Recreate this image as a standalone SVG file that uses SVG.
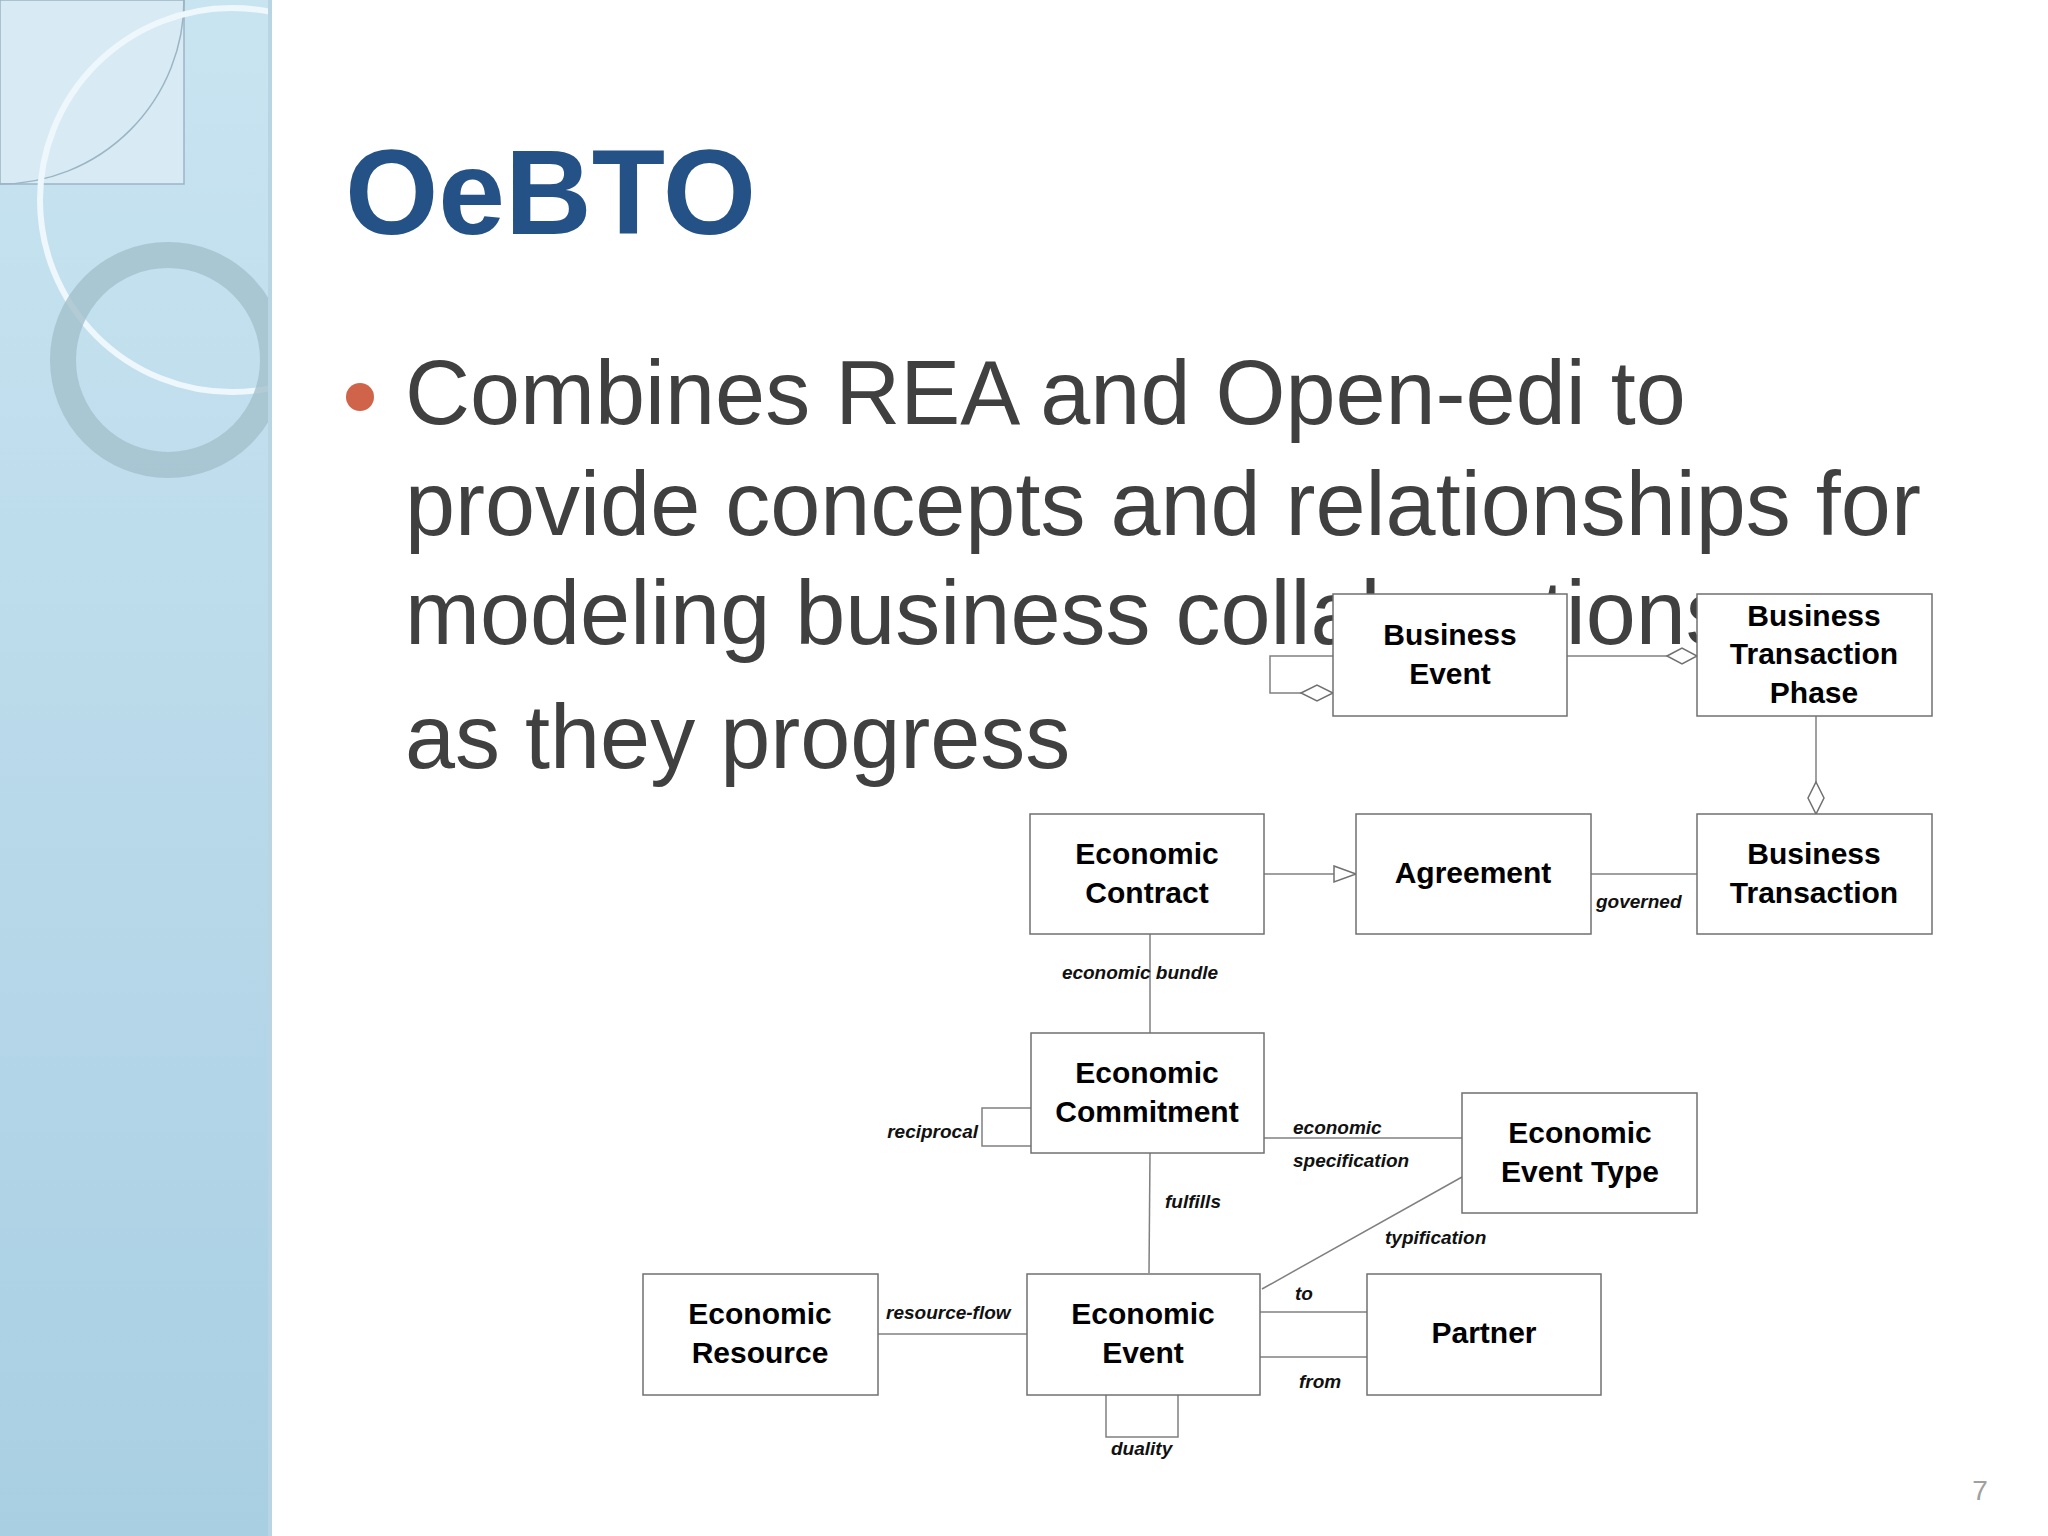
<svg xmlns="http://www.w3.org/2000/svg" width="2048" height="1536" viewBox="0 0 2048 1536">
<defs>
<linearGradient id="panel" x1="0" y1="0" x2="0" y2="1"><stop offset="0" stop-color="#c9e4f1"/><stop offset="1" stop-color="#a9cfe3"/></linearGradient>
<clipPath id="pc"><rect x="0" y="0" width="270" height="1536"/></clipPath>
<style>
.box{fill:#fff;stroke:#707070;stroke-width:1.5}
.ln{fill:none;stroke:#808080;stroke-width:1.5}
.hd{fill:#fff;stroke:#707070;stroke-width:1.5}
.bt{font-family:"Liberation Sans",Arial,sans-serif;font-weight:bold;font-size:30px;fill:#000;text-anchor:middle}
.lb{font-family:"Liberation Sans",Arial,sans-serif;font-weight:bold;font-style:italic;font-size:19px;fill:#111}
</style>
</defs>
<rect width="2048" height="1536" fill="#fff"/>
<g id="decor">
<rect x="0" y="0" width="272" height="1536" fill="url(#panel)"/>
<g clip-path="url(#pc)">
<rect x="0" y="0" width="184" height="184" fill="#d8ebf5" stroke="#9bb5c4" stroke-width="1.5"/>
<path d="M184 0 A184 184 0 0 1 0 184" fill="none" stroke="#9bb5c4" stroke-width="1.5"/>
<circle cx="232" cy="200" r="192" fill="none" stroke="#eef7fb" stroke-width="6"/>
<circle cx="168" cy="360" r="105" fill="none" stroke="#a3bfcc" stroke-width="26" opacity="0.8"/>
</g>
<rect x="268" y="0" width="4" height="1536" fill="#b9d4e2"/>
</g>
<text x="345" y="234" font-family="Liberation Sans,Arial,sans-serif" font-weight="bold" font-size="120" fill="#255286">OeBTO</text>
<circle cx="360" cy="397" r="14" fill="#d0644a"/>
<g font-family="Liberation Sans,Arial,sans-serif" font-size="90" fill="#404040">
<text x="405" y="424">Combines REA and Open-edi to</text>
<text x="405" y="535">provide concepts and relationships for</text>
<text x="405" y="644">modeling business collaborations</text>
<text x="405" y="768">as they progress</text>
</g>
<text x="1980" y="1500" font-family="Liberation Sans,Arial,sans-serif" font-size="28" fill="#a0a0a0" text-anchor="middle">7</text>
<g id="connectors">
<path class="ln" d="M1333 656 H1270 V693 H1301"/>
<path class="hd" d="M1301 693 L1317 685 L1333 693 L1317 701 Z"/>
<path class="ln" d="M1567 656 H1667"/>
<path class="hd" d="M1667 656 L1682 648 L1697 656 L1682 664 Z"/>
<path class="ln" d="M1816 716 V782"/>
<path class="hd" d="M1816 782 L1824 798 L1816 814 L1808 798 Z"/>
<path class="ln" d="M1264 874 H1334"/>
<path class="hd" d="M1334 866 L1356 874 L1334 882 Z"/>
<path class="ln" d="M1591 874 H1697"/>
<path class="ln" d="M1150 934 V1033"/>
<path class="ln" d="M1031 1108 H982 V1146 H1031"/>
<path class="ln" d="M1264 1138 H1462"/>
<path class="ln" d="M1150 1153 L1149 1273"/>
<path class="ln" d="M1262 1289 L1462 1177"/>
<path class="ln" d="M1260 1312 H1367"/>
<path class="ln" d="M1260 1357 H1367"/>
<path class="ln" d="M878 1334 H1027"/>
<path class="ln" d="M1106 1395 V1437 H1178 V1395"/>
</g>
<g id="labels">
<text class="lb" x="1596" y="908">governed</text>
<text class="lb" x="1140" y="979" text-anchor="middle">economic bundle</text>
<text class="lb" x="978" y="1138" text-anchor="end">reciprocal</text>
<text class="lb" x="1293" y="1134">economic</text>
<text class="lb" x="1293" y="1167">specification</text>
<text class="lb" x="1165" y="1208">fulfills</text>
<text class="lb" x="1385" y="1244">typification</text>
<text class="lb" x="1295" y="1300">to</text>
<text class="lb" x="1299" y="1388">from</text>
<text class="lb" x="886" y="1319">resource-flow</text>
<text class="lb" x="1111" y="1455">duality</text>
</g>
<g id="business-event"><rect class="box" x="1333" y="594" width="234" height="122"/><text class="bt" x="1450" y="645">Business</text><text class="bt" x="1450" y="684">Event</text></g>
<g id="business-transaction-phase"><rect class="box" x="1697" y="594" width="235" height="122"/><text class="bt" x="1814" y="626">Business</text><text class="bt" x="1814" y="664">Transaction</text><text class="bt" x="1814" y="703">Phase</text></g>
<g id="economic-contract"><rect class="box" x="1030" y="814" width="234" height="120"/><text class="bt" x="1147" y="864">Economic</text><text class="bt" x="1147" y="903">Contract</text></g>
<g id="agreement"><rect class="box" x="1356" y="814" width="235" height="120"/><text class="bt" x="1473" y="883">Agreement</text></g>
<g id="business-transaction"><rect class="box" x="1697" y="814" width="235" height="120"/><text class="bt" x="1814" y="864">Business</text><text class="bt" x="1814" y="903">Transaction</text></g>
<g id="economic-commitment"><rect class="box" x="1031" y="1033" width="233" height="120"/><text class="bt" x="1147" y="1083">Economic</text><text class="bt" x="1147" y="1122">Commitment</text></g>
<g id="economic-event-type"><rect class="box" x="1462" y="1093" width="235" height="120"/><text class="bt" x="1580" y="1143">Economic</text><text class="bt" x="1580" y="1182">Event Type</text></g>
<g id="economic-resource"><rect class="box" x="643" y="1274" width="235" height="121"/><text class="bt" x="760" y="1324">Economic</text><text class="bt" x="760" y="1363">Resource</text></g>
<g id="economic-event"><rect class="box" x="1027" y="1274" width="233" height="121"/><text class="bt" x="1143" y="1324">Economic</text><text class="bt" x="1143" y="1363">Event</text></g>
<g id="partner"><rect class="box" x="1367" y="1274" width="234" height="121"/><text class="bt" x="1484" y="1343">Partner</text></g>
</svg>
